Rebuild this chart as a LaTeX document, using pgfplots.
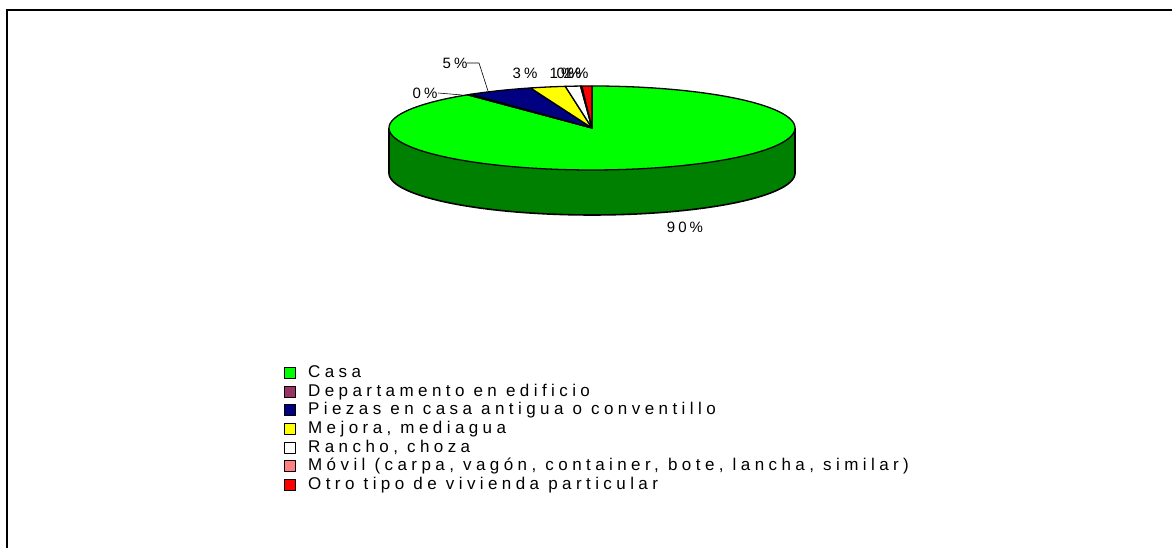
\documentclass[border=0pt]{standalone}
\usepackage{fontspec}
\setmainfont{Liberation Sans}
\newfontfamily\lsfont[LetterSpace=26]{Liberation Sans}
\newfontfamily\lblfont[LetterSpace=20]{Liberation Sans}
\usepackage{pgfplots}
\pgfplotsset{compat=1.18}
\definecolor{cCasa}{RGB}{0,255,0}
\definecolor{cSide}{RGB}{0,128,0}
\definecolor{cDep}{RGB}{153,51,102}
\definecolor{cPie}{RGB}{0,0,128}
\definecolor{cMej}{RGB}{255,255,0}
\definecolor{cRan}{RGB}{255,255,255}
\definecolor{cMov}{RGB}{255,128,128}
\definecolor{cOtro}{RGB}{255,0,0}
\newcommand\lbl{\lblfont\fontsize{15}{17}\selectfont}
\begin{document}
\begin{tikzpicture}
\begin{axis}[scale only axis, width=1172pt, height=548pt,
  xmin=0, xmax=1172, ymin=0, ymax=548, hide axis, clip=false,
  legend style={at={(axis cs:284,184)}, anchor=north west, draw=none, fill=none,
    inner sep=0pt, outer sep=0pt, row sep=0pt,
    font=\lsfont\fontsize{17}{19}\selectfont,
    nodes={text height=12pt, text depth=4pt, inner sep=1.35pt},
    /tikz/every odd column/.append style={column sep=11pt}},
  legend cell align=left,
  legend image code/.code={\draw[#1, line width=0.8pt] (0pt,-5pt) rectangle (11pt,6pt);}]
% side of the pie
\addplot[forget plot, fill=cSide, draw=none, domain=180:360, samples=120, variable=\t]
  ({592+203*cos(\t)},{375+42*sin(\t)}) -- (axis cs:795,420) -- (axis cs:389,420) -- cycle;
\addplot[forget plot, draw=black, line width=1.6pt, domain=180:360, samples=120, variable=\t]
  ({592+203*cos(\t)},{375+42*sin(\t)});
\addplot[forget plot, draw=black, line width=1.6pt] coordinates {(389,375) (389,420)};
\addplot[forget plot, draw=black, line width=1.6pt] coordinates {(795,375) (795,420)};
% slices (values in percent)
\gdef\cum{90}
\foreach \v/\c in {89.5/cCasa, 0.3/cDep, 5.3/cPie, 2.8/cMej, 1.2/cRan, 0.1/cMov, 0.8/cOtro}{
  \pgfmathsetmacro\e{\cum-3.6*\v}
  \edef\temp{\noexpand\addplot[fill=\c, draw=black, line width=1.3pt, line join=round,
     domain=\e:\cum, samples=150, variable=\noexpand\t]
     ({592+203*cos(\noexpand\t)},{420+42*sin(\noexpand\t)}) -- (axis cs:592,420) -- cycle;}
  \temp
  \xdef\cum{\e}
}
\legend{Casa, Departamento en edificio, Piezas en casa antigua o conventillo,
  {Mejora, mediagua}, {Rancho, choza},
  {Móvil (carpa, vagón, container, bote, lancha, similar)},
  Otro tipo de vivienda particular}
% data labels
\node[font=\lbl] at (axis cs:685,321) {90\%};
\node[font=\lbl] at (axis cs:455,485) {5\%};
\draw[line width=0.6pt] (axis cs:467,485) -- (axis cs:479,485) -- (axis cs:488,457);
\node[font=\lbl] at (axis cs:425,455) {0\%};
\draw[line width=0.6pt] (axis cs:438,455) -- (axis cs:462,453);
\node[font=\lbl] at (axis cs:525,475) {3\%};
\node[font=\lbl] at (axis cs:562,475) {1\%};
\node[font=\lbl] at (axis cs:569,475) {0\%};
\node[font=\lbl] at (axis cs:576,475) {1\%};
% frame
\draw[line width=2pt] (axis cs:7,0) -- (axis cs:7,538) -- (axis cs:1172,538);
\end{axis}
\pgfresetboundingbox
\path (0,0) rectangle (1172pt,548pt);
\end{tikzpicture}
\end{document}
